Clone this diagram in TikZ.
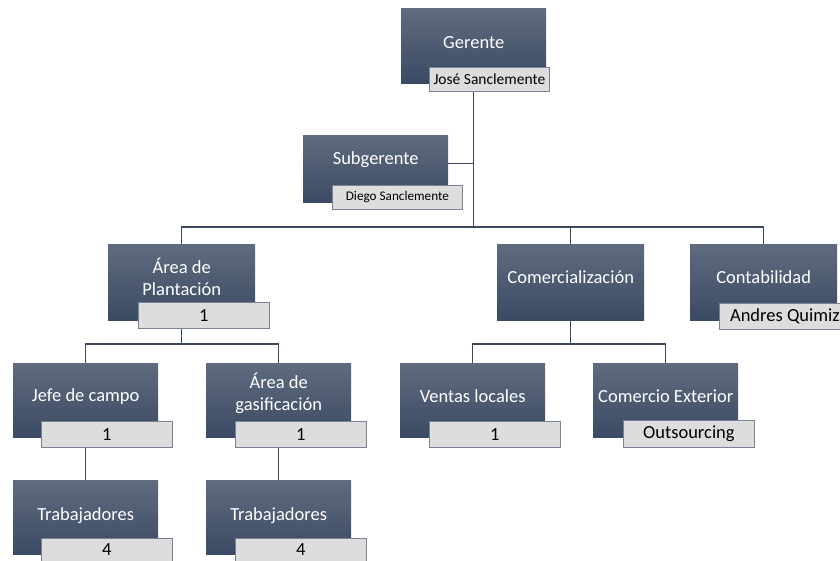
\documentclass[tikz,border=0pt]{standalone}
\usepackage{fontspec}
\setmainfont{Carlito}
\usetikzlibrary{backgrounds}
\definecolor{boxtop}{RGB}{95,107,126}
\definecolor{boxbot}{RGB}{59,74,100}
\definecolor{linecol}{RGB}{60,72,92}
\definecolor{tagfill}{RGB}{221,221,221}
\definecolor{tagline}{RGB}{120,132,150}

\begin{document}
\begin{tikzpicture}[x=1pt, y=-1pt,
  unit/.style={anchor=north west, top color=boxtop, bottom color=boxbot, minimum width=145pt, minimum height=74pt, inner sep=0pt},
  wide/.style={minimum width=147pt, minimum height=76pt},
  unittext/.style={text=white, font=\fontsize{18.5}{22}\selectfont, align=center, yshift=4pt},
  tag/.style={anchor=north west, draw=tagline, fill=tagfill, line width=0.8pt, minimum width=131pt, minimum height=26pt, inner sep=0pt, font=\fontsize{18.5}{22}\selectfont},
  link/.style={draw=linecol, line width=1.4pt}]
\useasboundingbox (0,0) rectangle (840,560);
% top
\node[unit, minimum height=75pt, label={[unittext, yshift=-0.5pt]center:Gerente}] (a1) at (401,8) {};
\node[tag, minimum width=120pt, minimum height=24pt, font=\fontsize{15.5}{18}\selectfont] (la1) at (429,67) {José Sanclemente};
\node[unit, minimum height=67pt, label={[unittext, yshift=5pt]center:Subgerente}] (b1) at (303,135) {};
\node[tag, minimum width=130pt, minimum height=24pt, font=\fontsize{13.2}{16}\selectfont] (lb1) at (332,185) {Diego Sanclemente};
% second row
\node[unit, wide, label={[unittext, yshift=1pt]center:{Área de\\Plantación}}] (c1) at (108,244) {};
\node[tag] (lc1) at (138,302) {1};
\node[unit, wide, label={[unittext, yshift=1pt]center:Comercialización}] (c2) at (497,244) {};
\node[unit, wide, label={[unittext, yshift=1pt]center:Contabilidad}] (c3) at (690,244) {};
\node[tag] (lc3) at (719,303) {Andres Quimiz};
% third row
\node[unit, label={[unittext]center:Jefe de campo}] (d1) at (13,363) {};
\node[tag] (ld1) at (41,421) {1};
\node[unit, label={[unittext, yshift=2.5pt]center:{Área de\\gasificación}}] (d2) at (206,363) {};
\node[tag] (ld2) at (235,421) {1};
\node[unit, label={[unittext]center:Ventas locales}] (d3) at (400,363) {};
\node[tag] (ld3) at (429,421) {1};
\node[unit, label={[unittext]center:Comercio Exterior}] (d4) at (593,363) {};
\node[tag, minimum height=27pt] (ld4) at (623,420) {Outsourcing};
% bottom row
\node[unit, label={[unittext, yshift=-2pt]center:Trabajadores}] (e1) at (13,480) {};
\node[tag, minimum height=23pt] (le1) at (41,538) {4};
\node[unit, label={[unittext, yshift=-2pt]center:Trabajadores}] (e2) at (206,480) {};
\node[tag, minimum height=23pt] (le2) at (235,538) {4};

\coordinate (h1) at (0,227);
\coordinate (h2) at (0,344);
\coordinate (b0) at ([yshift=5.5pt]b1.east);
\begin{scope}[on background layer]
\draw[link] (a1) -- (a1 |- h1);
\draw[link] (b0) -- (b0 -| a1);
\draw[link] (c1) |- (a1 |- h1) -| (c3);
\draw[link] (c2) -- (c2 |- h1);
\draw[link] (c1) -- (c1 |- h2);
\draw[link] (d1) |- (c1 |- h2) -| (d2);
\draw[link] (c2) -- (c2 |- h2);
\draw[link] (d3) |- (c2 |- h2) -| (d4);
\draw[link] (d1) -- (e1);
\draw[link] (d2) -- (e2);
\end{scope}
\end{tikzpicture}
\end{document}
